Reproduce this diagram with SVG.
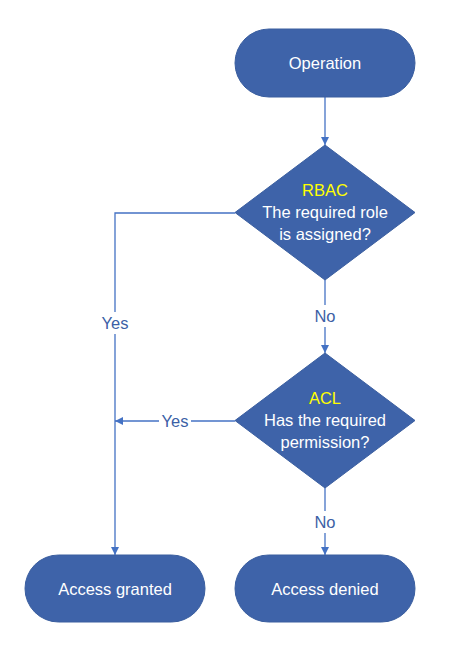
<svg xmlns="http://www.w3.org/2000/svg" width="476" height="651" viewBox="0 0 476 651">
<defs>
<marker id="arr" viewBox="0 0 10 10" refX="10" refY="5" markerWidth="8" markerHeight="8" markerUnits="userSpaceOnUse" orient="auto">
<path d="M0,0 L10,5 L0,10 z" fill="#4472C4"/>
</marker>
<style>
.node{fill:#3E63A9;stroke:#3A5E9F;stroke-width:1}
.t{font-family:"Liberation Sans",Arial,sans-serif;font-size:16.5px;fill:#FFFFFF;text-anchor:middle;dominant-baseline:central}
.y{fill:#FFFF00}
.edge{fill:none;stroke:#4472C4;stroke-width:1.3}
.lbl{font-family:"Liberation Sans",Arial,sans-serif;font-size:16.5px;fill:#3C5FA6;text-anchor:middle;dominant-baseline:central}
.bg{fill:#FFFFFF}
</style>
</defs>
<rect width="476" height="651" fill="#FFFFFF"/>
<g id="connectors">
<path class="edge" d="M325,97 L325,145" marker-end="url(#arr)"/>
<path class="edge" d="M325,280 L325,353" marker-end="url(#arr)"/>
<path class="edge" d="M235,213 L115,213 L115,555" marker-end="url(#arr)"/>
<path class="edge" d="M235,421 L115,421" marker-end="url(#arr)"/>
<path class="edge" d="M325,488 L325,555" marker-end="url(#arr)"/>
<rect class="bg" x="99" y="312" width="32" height="22"/>
<text class="lbl" x="115" y="323">Yes</text>
<rect class="bg" x="311" y="305" width="28" height="22"/>
<text class="lbl" x="325" y="316">No</text>
<rect class="bg" x="159" y="410" width="32" height="22"/>
<text class="lbl" x="175" y="421">Yes</text>
<rect class="bg" x="311" y="511" width="28" height="22"/>
<text class="lbl" x="325" y="522">No</text>
</g>
<g id="operation">
<rect class="node" x="235" y="29" width="180" height="68" rx="34" ry="34"/>
<text class="t" x="325" y="63">Operation</text>
</g>
<g id="rbac">
<polygon class="node" points="325,145 415,212.5 325,280 235,212.5"/>
<text class="t y" x="325" y="190">RBAC</text>
<text class="t" x="325" y="212">The required role</text>
<text class="t" x="325" y="234">is assigned?</text>
</g>
<g id="acl">
<polygon class="node" points="325,353 415,420.5 325,488 235,420.5"/>
<text class="t y" x="325" y="398">ACL</text>
<text class="t" x="325" y="420">Has the required</text>
<text class="t" x="325" y="442">permission?</text>
</g>
<g id="granted">
<rect class="node" x="25" y="555" width="180" height="67" rx="33.5" ry="33.5"/>
<text class="t" x="115" y="589">Access granted</text>
</g>
<g id="denied">
<rect class="node" x="235" y="555" width="180" height="67" rx="33.5" ry="33.5"/>
<text class="t" x="325" y="589">Access denied</text>
</g>
</svg>
